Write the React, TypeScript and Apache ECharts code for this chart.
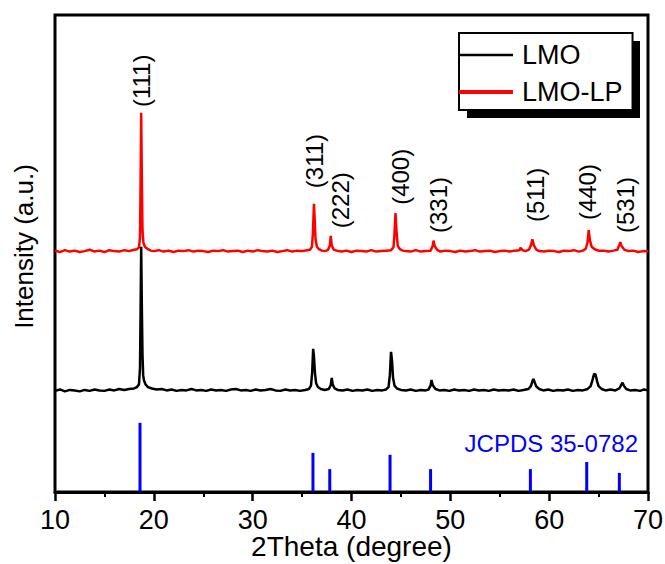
import React, { useEffect, useRef } from "react";
import * as echarts from "echarts";

const FONT = 'Arial, "Liberation Sans", sans-serif';

// x-axis tick values (2Theta, degree)
const xTicks = [10, 20, 30, 40, 50, 60, 70];

// LMO-LP pattern (offset stacked), [2Theta, intensity a.u.]
const lmoLp: number[][] = [
  [10.0, 50.6], [10.5, 50.3], [11.0, 50.7], [11.5, 50.4], [12.0, 50.6], [12.5, 50.3], [13.0, 50.5], [13.5, 50.8],
  [14.0, 50.4], [14.5, 50.6], [15.0, 50.3], [15.5, 50.7], [16.0, 50.5], [16.5, 50.4], [17.0, 50.7], [17.5, 50.5],
  [18.0, 50.8], [18.3, 50.9], [18.5, 51.3], [18.6, 53.5], [18.66, 65], [18.72, 79.5], [18.78, 67], [18.85, 55],
  [18.95, 52.2], [19.1, 51.4], [19.4, 50.9], [19.7, 50.6], [20.0, 50.5], [20.5, 50.7], [21.0, 50.4], [21.5, 50.6],
  [22.0, 50.3], [22.5, 50.6], [23.0, 50.5], [23.5, 50.7], [24.0, 50.4], [24.5, 50.6], [25.0, 50.5], [25.5, 50.3],
  [26.0, 50.6], [26.5, 50.5], [27.0, 50.7], [27.5, 50.4], [28.0, 50.5], [28.5, 50.6], [29.0, 50.3], [29.5, 50.6],
  [30.0, 50.4], [30.5, 50.7], [31.0, 50.5], [31.5, 50.4], [32.0, 50.6], [32.5, 50.3], [33.0, 50.5], [33.5, 50.7],
  [34.0, 50.4], [34.5, 50.6], [35.0, 50.5], [35.5, 50.7], [35.8, 50.8], [36.0, 51.4], [36.1, 54.5], [36.2, 60.4],
  [36.28, 57], [36.36, 53], [36.5, 51.4], [36.7, 50.9], [37.0, 50.6], [37.3, 50.5], [37.6, 50.7], [37.8, 51.6],
  [37.9, 53.7], [38.0, 51.7], [38.2, 50.8], [38.5, 50.6], [39.0, 50.4], [39.5, 50.6], [40.0, 50.3], [40.5, 50.6],
  [41.0, 50.5], [41.5, 50.4], [42.0, 50.7], [42.5, 50.4], [43.0, 50.5], [43.5, 50.6], [44.0, 50.7], [44.25, 51.3],
  [44.35, 54.2], [44.45, 58.5], [44.55, 54.8], [44.68, 51.6], [44.9, 50.9], [45.2, 50.6], [45.5, 50.5], [46.0, 50.4],
  [46.5, 50.7], [47.0, 50.4], [47.5, 50.5], [48.0, 50.6], [48.2, 51.5], [48.3, 52.7], [48.42, 51.5], [48.7, 50.7],
  [49.0, 50.4], [49.5, 50.6], [50.0, 50.5], [50.5, 50.3], [51.0, 50.6], [51.5, 50.4], [52.0, 50.5], [52.5, 50.7],
  [53.0, 50.4], [53.5, 50.5], [54.0, 50.6], [54.5, 50.3], [55.0, 50.5], [55.5, 50.6], [56.0, 50.4], [56.5, 50.6],
  [57.0, 50.7], [57.1, 51.2], [57.3, 50.7], [57.6, 50.5], [57.95, 50.8], [58.15, 51.7], [58.3, 53.0], [58.45, 51.7],
  [58.7, 50.8], [59.0, 50.5], [59.5, 50.4], [60.0, 50.6], [60.5, 50.5], [61.0, 50.3], [61.5, 50.6], [62.0, 50.5],
  [62.5, 50.7], [63.0, 50.4], [63.4, 50.6], [63.7, 51.0], [63.88, 52.3], [64.0, 54.9], [64.12, 52.8], [64.3, 51.4],
  [64.6, 50.9], [65.0, 50.6], [65.5, 50.6], [66.0, 50.4], [66.5, 50.6], [66.9, 50.8], [67.1, 51.8], [67.2, 52.4],
  [67.32, 51.6], [67.6, 50.8], [68.0, 50.5], [68.5, 50.6], [69.0, 50.3], [69.5, 50.5], [70.0, 50.4],
];

// LMO pattern (offset stacked), [2Theta, intensity a.u.]
const lmo: number[][] = [
  [10.0, 21.2], [10.5, 21.5], [11.0, 21.1], [11.5, 21.4], [12.0, 21.3], [12.5, 21.1], [13.0, 21.4], [13.5, 21.2],
  [14.0, 21.5], [14.5, 21.3], [15.0, 21.2], [15.5, 21.5], [16.0, 21.3], [16.5, 21.6], [17.0, 21.4], [17.5, 21.6],
  [18.0, 21.7], [18.3, 22.0], [18.5, 22.6], [18.6, 26], [18.66, 38], [18.72, 51.4], [18.78, 40], [18.85, 29],
  [18.92, 24.5], [19.0, 23.4], [19.15, 22.6], [19.4, 22.0], [19.8, 21.7], [20.3, 21.5], [20.8, 21.6], [21.3, 21.3],
  [21.8, 21.5], [22.3, 21.2], [22.8, 21.4], [23.3, 21.3], [23.8, 21.6], [24.3, 21.3], [24.8, 21.4], [25.3, 21.2],
  [25.8, 21.5], [26.3, 21.3], [26.8, 21.4], [27.3, 21.2], [27.8, 21.5], [28.3, 21.6], [28.8, 21.3], [29.3, 21.4],
  [29.8, 21.2], [30.3, 21.5], [30.8, 21.3], [31.3, 21.4], [31.8, 21.6], [32.3, 21.3], [32.8, 21.2], [33.3, 21.5],
  [33.8, 21.3], [34.3, 21.4], [34.8, 21.2], [35.3, 21.4], [35.7, 21.6], [35.9, 22.3], [36.02, 25], [36.12, 30.0],
  [36.2, 28.5], [36.3, 25], [36.42, 22.8], [36.6, 22.0], [36.9, 21.6], [37.3, 21.4], [37.7, 21.6], [37.9, 22.4],
  [38.0, 23.9], [38.1, 22.5], [38.3, 21.7], [38.6, 21.4], [39.1, 21.3], [39.6, 21.5], [40.1, 21.2], [40.6, 21.4],
  [41.1, 21.3], [41.6, 21.5], [42.1, 21.2], [42.6, 21.4], [43.1, 21.3], [43.5, 21.5], [43.75, 22.0], [43.88, 24.5],
  [44.0, 29.4], [44.1, 27.5], [44.2, 24], [44.35, 22.3], [44.6, 21.7], [45.0, 21.4], [45.5, 21.3], [46.0, 21.5],
  [46.5, 21.2], [47.0, 21.4], [47.5, 21.3], [47.8, 21.5], [48.0, 22.3], [48.1, 23.5], [48.22, 22.4], [48.5, 21.6],
  [48.9, 21.3], [49.4, 21.4], [49.9, 21.2], [50.4, 21.5], [50.9, 21.3], [51.4, 21.4], [51.9, 21.2], [52.4, 21.5],
  [52.9, 21.3], [53.4, 21.4], [53.9, 21.2], [54.4, 21.5], [54.9, 21.3], [55.4, 21.4], [55.9, 21.3], [56.4, 21.5],
  [56.9, 21.2], [57.4, 21.4], [57.9, 21.6], [58.15, 22.2], [58.3, 23.2], [58.4, 23.7], [58.5, 23.2], [58.7, 22.1],
  [59.0, 21.6], [59.4, 21.3], [59.9, 21.5], [60.4, 21.2], [60.9, 21.4], [61.4, 21.3], [61.9, 21.5], [62.4, 21.2],
  [62.9, 21.4], [63.4, 21.3], [63.9, 21.6], [64.2, 22.2], [64.4, 23.6], [64.55, 24.8], [64.7, 24.6], [64.85, 23.2],
  [65.0, 22.2], [65.3, 21.6], [65.7, 21.3], [66.2, 21.5], [66.7, 21.3], [67.1, 21.7], [67.3, 22.5], [67.42, 22.9],
  [67.55, 22.3], [67.8, 21.6], [68.2, 21.3], [68.7, 21.4], [69.2, 21.2], [69.6, 21.5], [70.0, 21.3],
];

// JCPDS 35-0782 reference lines
const refPos = [18.6, 36.1, 37.8, 43.9, 48.0, 58.1, 63.8, 67.1];
const refInt = [14.5, 8.2, 4.8, 7.8, 4.8, 4.8, 6.3, 4.0];

// Miller index labels (text, 2Theta of label, intensity where label starts)
const hklText = ["(111)", "(311)", "(222)", "(400)", "(331)", "(511)", "(440)", "(531)"];
const hklX = [18.8, 36.3, 38.9, 44.95, 48.8, 58.6, 63.9, 67.75];
const hklY = [80.7, 63.7, 55.3, 60.2, 54.3, 56.6, 57.0, 54.3];

export default function App() {
  const ref = useRef<HTMLDivElement>(null);
  useEffect(() => {
    if (!ref.current) return;
    const chart = echarts.init(ref.current, null, { renderer: "svg" });
    chart.setOption({
      animation: false,
      backgroundColor: "#fff",
      textStyle: { fontFamily: FONT },
      grid: {
        left: 55, right: 17, top: 15, bottom: 72,
        show: true, borderColor: "#000", borderWidth: 3,
        containLabel: false, outerBoundsMode: "none",
      },
      legend: {
        orient: "vertical",
        left: 459, top: 33,
        padding: [7, 10, 3, 0],
        itemWidth: 54, itemHeight: 20, itemGap: 7,
        selectedMode: false,
        backgroundColor: "#fff",
        borderColor: "#000", borderWidth: 2,
        z: 10,
        textStyle: { fontSize: 27, fontFamily: FONT, color: "#000", lineHeight: 30, padding: [0, 0, 0, 4] },
        data: [
          { name: "LMO", icon: "path://M0,0H54V2.4H0Z", itemStyle: { color: "#000" } },
          { name: "LMO-LP", icon: "path://M0,0H54V4H0Z", itemStyle: { color: "#ff0000" } },
        ],
      },
      xAxis: {
        type: "value", min: xTicks[0], max: xTicks[xTicks.length - 1], interval: 10,
        name: "2Theta (degree)", nameLocation: "middle", nameGap: 42, nameMoveOverlap: false,
        nameTextStyle: { fontSize: 28, color: "#000", fontFamily: FONT, lineHeight: 24 },
        axisLine: { show: true, lineStyle: { color: "#000", width: 3 } },
        axisTick: { show: true, inside: false, length: 9, lineStyle: { color: "#000", width: 2.5 } },
        minorTick: { show: true, splitNumber: 2, length: 5, lineStyle: { color: "#000", width: 2 } },
        axisLabel: { fontSize: 27, color: "#000", margin: 16, fontFamily: FONT, lineHeight: 24 },
        splitLine: { show: false },
      },
      yAxis: {
        type: "value", min: 0, max: 100,
        name: "Intensity (a.u.)", nameLocation: "middle", nameGap: 18, nameRotate: 90, nameMoveOverlap: false,
        nameTextStyle: { fontSize: 26, color: "#000", fontFamily: FONT, padding: [0, 0, 0, 14] },
        axisLine: { show: false }, axisTick: { show: false }, axisLabel: { show: false },
        splitLine: { show: false },
      },
      series: [
        {
          name: "LMO-LP", type: "line", data: lmoLp, symbol: "none",
          lineStyle: { color: "#ff0000", width: 2.5 }, itemStyle: { color: "#ff0000" }, z: 2,
        },
        {
          name: "LMO", type: "line", data: lmo, symbol: "none",
          lineStyle: { color: "#000", width: 2.5 }, itemStyle: { color: "#000" }, z: 3,
        },
        {
          name: "JCPDS", type: "bar", barWidth: 3,
          data: refPos.map((p, i) => [p, refInt[i]]),
          itemStyle: { color: "#0000ff" }, z: 2,
        },
      ],
    });

    // Miller-index labels, placed through the chart's own scales
    const hklGraphics = hklText.map((t, i) => {
      const [px, py] = chart.convertToPixel({ gridIndex: 0 }, [hklX[i], hklY[i]]) as number[];
      return {
        type: "text", z: 50, x: px, y: py, rotation: Math.PI / 2,
        style: { text: t, fontSize: 24, fontFamily: FONT, fill: "#000", align: "left", verticalAlign: "middle" },
      };
    });
    chart.setOption({
      graphic: [
        { type: "rect", z: 1, shape: { x: 467, y: 41, width: 173, height: 77 }, style: { fill: "#000" } },
        {
          type: "text", z: 5, x: 638, y: 443,
          style: { text: "JCPDS 35-0782", fontSize: 24, fontFamily: FONT, fill: "#0000ff", align: "right", verticalAlign: "middle" },
        },
        ...hklGraphics,
      ],
    });
    return () => chart.dispose();
  }, []);
  return <div ref={ref} style={{ position: "fixed", left: 0, top: 0, width: 665, height: 564 }} />;
}
